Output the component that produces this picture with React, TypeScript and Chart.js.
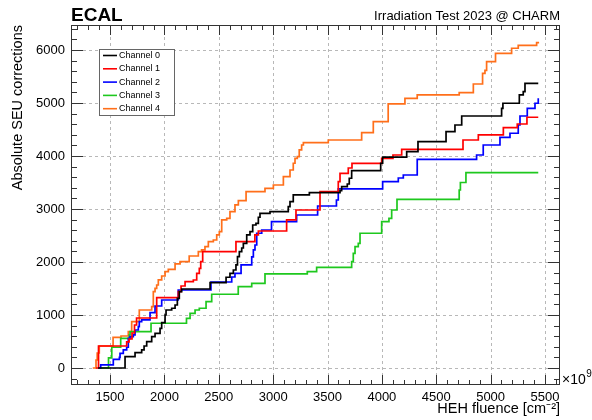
import React, { useEffect, useRef } from 'react';
import { Chart, registerables } from 'chart.js';
Chart.register(...registerables);

const FONT = '"Liberation Sans", Arial, Helvetica, sans-serif';

const SERIES_LABELS = ['Channel 0', 'Channel 1', 'Channel 2', 'Channel 3', 'Channel 4'];
const SERIES_COLORS = ['#000000', '#ff0000', '#0000ff', '#1ec81e', '#ff6f1a'];

const CH0_X = [1390, 1638, 1730, 1791, 1813, 1837, 1883, 1914, 1960, 1975, 2006, 2015, 2067, 2098, 2119, 2137, 2159, 2420, 2567, 2603, 2634, 2658, 2672, 2689, 2711, 2726, 2757, 2787, 2812, 2842, 2864, 2879, 2971, 3139, 3155, 3185, 3333, 3615, 3630, 3682, 3700, 3722, 3989, 4007, 4228, 4332, 4590, 4672, 4734, 5101, 5113, 5264, 5300, 5316, 5438];
const CH0_Y = [0, 213, 289, 340, 415, 496, 591, 655, 749, 855, 1000, 1094, 1127, 1189, 1315, 1440, 1490, 1610, 1712, 1787, 1849, 1944, 2100, 2195, 2264, 2353, 2510, 2572, 2698, 2730, 2844, 2919, 2950, 3044, 3138, 3265, 3308, 3346, 3421, 3472, 3580, 3723, 3863, 3980, 4082, 4270, 4459, 4585, 4755, 4900, 4995, 5152, 5214, 5372, 5372];

const CH1_X = [1371, 1394, 1653, 1675, 1702, 1725, 1744, 1929, 2128, 2153, 2190, 2266, 2297, 2321, 2334, 2352, 2658, 2832, 2864, 3124, 3210, 3431, 3599, 3615, 3691, 3725, 3998, 4102, 4182, 4746, 4887, 5117, 5245, 5334, 5438];
const CH1_Y = [0, 415, 491, 547, 660, 811, 943, 1327, 1440, 1547, 1628, 1660, 1787, 1881, 2006, 2195, 2383, 2510, 2585, 2793, 2981, 3327, 3516, 3674, 3774, 3862, 3957, 4019, 4127, 4302, 4397, 4535, 4604, 4731, 4731];

const CH2_X = [1392, 1414, 1530, 1586, 1592, 1622, 1653, 1668, 1684, 1714, 1730, 1760, 1769, 1791, 1868, 1914, 1975, 2127, 2428, 2619, 2649, 2705, 2803, 2818, 2833, 2849, 2895, 2985, 3216, 3409, 3582, 3599, 4007, 4151, 4197, 4325, 4871, 4932, 5086, 5178, 5254, 5270, 5337, 5408, 5438];
const CH2_Y = [0, 57, 164, 202, 277, 340, 391, 560, 591, 623, 717, 779, 874, 906, 1043, 1170, 1283, 1472, 1623, 1717, 1787, 1944, 2095, 2227, 2321, 2542, 2604, 2761, 2887, 3057, 3170, 3378, 3516, 3585, 3642, 3938, 4019, 4208, 4353, 4429, 4585, 4755, 4900, 4995, 5089];

const CH3_X = [1392, 1486, 1516, 1598, 1677, 1684, 1877, 2203, 2236, 2282, 2321, 2383, 2435, 2679, 2803, 2925, 3314, 3400, 3722, 3737, 3753, 3783, 3799, 3998, 4065, 4090, 4139, 4711, 4722, 4773, 5438];
const CH3_Y = [0, 189, 391, 560, 623, 685, 844, 938, 1032, 1094, 1127, 1251, 1391, 1534, 1598, 1774, 1817, 1900, 2006, 2164, 2289, 2353, 2542, 2761, 2825, 2981, 3180, 3359, 3500, 3685, 3685];

const CH4_X = [1341, 1371, 1382, 1401, 1528, 1601, 1668, 1699, 1769, 1883, 1898, 1914, 1929, 1944, 1975, 2006, 2036, 2098, 2144, 2228, 2312, 2342, 2373, 2404, 2450, 2481, 2505, 2527, 2573, 2603, 2649, 2680, 2751, 2925, 3002, 3094, 3155, 3185, 3201, 3222, 3240, 3262, 3278, 3507, 3814, 3921, 4058, 4212, 4325, 4711, 4841, 4926, 4948, 4963, 5045, 5193, 5254, 5423, 5438];
const CH4_Y = [0, 151, 283, 415, 576, 604, 685, 874, 1094, 1157, 1440, 1504, 1566, 1661, 1736, 1817, 1862, 1963, 2006, 2113, 2195, 2227, 2289, 2383, 2415, 2510, 2572, 2793, 2825, 2949, 3076, 3157, 3327, 3391, 3453, 3610, 3736, 3863, 3957, 3987, 4114, 4208, 4252, 4302, 4440, 4648, 4982, 5089, 5152, 5195, 5359, 5561, 5614, 5780, 5935, 6033, 6086, 6138, 6157];

const X_TICKS = [1500, 2000, 2500, 3000, 3500, 4000, 4500, 5000, 5500];
const Y_TICKS = [0, 1000, 2000, 3000, 4000, 5000, 6000];
const X_MINOR_TICKS = [1200, 1300, 1400, 1600, 1700, 1800, 1900, 2100, 2200, 2300, 2400, 2600, 2700, 2800, 2900, 3100, 3200, 3300, 3400, 3600, 3700, 3800, 3900, 4100, 4200, 4300, 4400, 4600, 4700, 4800, 4900, 5100, 5200, 5300, 5400, 5600];
const Y_MINOR_TICKS = [-200, 200, 400, 600, 800, 1200, 1400, 1600, 1800, 2200, 2400, 2600, 2800, 3200, 3400, 3600, 3800, 4200, 4400, 4600, 4800, 5200, 5400, 5600, 5800, 6200, 6400];
const X_RANGE = [1141, 5638];
const Y_RANGE = [-321, 6472];

const TITLE_LEFT = 'ECAL';
const TITLE_RIGHT = 'Irradiation Test 2023 @ CHARM';
const X_TITLE = 'HEH fluence [cm\u207B\u00B2]';
const Y_TITLE = 'Absolute SEU corrections';
const X_EXP_BASE = '\u00D710';
const X_EXP_POW = '9';

const XS = [CH0_X, CH1_X, CH2_X, CH3_X, CH4_X];
const YS = [CH0_Y, CH1_Y, CH2_Y, CH3_Y, CH4_Y];

const rootStyle = {
  id: 'rootStyle',
  beforeDatasetsDraw(chart: any) {
    const { ctx, chartArea: a, scales } = chart;
    const x = scales.x, y = scales.y;
    ctx.save();
    ctx.strokeStyle = '#b8b8b8';
    ctx.lineWidth = 1;
    ctx.setLineDash([3, 3]);
    ctx.beginPath();
    X_TICKS.forEach((v) => {
      const px = Math.round(x.getPixelForValue(v)) + 0.5;
      ctx.moveTo(px, a.top);
      ctx.lineTo(px, a.bottom);
    });
    Y_TICKS.forEach((v) => {
      const py = Math.round(y.getPixelForValue(v)) + 0.5;
      ctx.moveTo(a.left, py);
      ctx.lineTo(a.right, py);
    });
    ctx.stroke();
    ctx.restore();
  },
  afterDatasetsDraw(chart: any) {
    const { ctx, chartArea: a, scales } = chart;
    const x = scales.x, y = scales.y;
    ctx.save();
    ctx.setLineDash([]);
    ctx.strokeStyle = '#333';
    ctx.lineWidth = 1;
    ctx.strokeRect(a.left + 0.5, a.top + 0.5, a.right - a.left - 1, a.bottom - a.top - 1);
    ctx.beginPath();
    const xt = (v: number, len: number) => {
      const px = Math.round(x.getPixelForValue(v)) + 0.5;
      ctx.moveTo(px, a.bottom);
      ctx.lineTo(px, a.bottom - len);
      ctx.moveTo(px, a.top);
      ctx.lineTo(px, a.top + len);
    };
    const yt = (v: number, len: number) => {
      const py = Math.round(y.getPixelForValue(v)) + 0.5;
      ctx.moveTo(a.left, py);
      ctx.lineTo(a.left + len, py);
      ctx.moveTo(a.right, py);
      ctx.lineTo(a.right - len, py);
    };
    X_TICKS.forEach((v) => xt(v, 10));
    X_MINOR_TICKS.forEach((v) => xt(v, 5));
    Y_TICKS.forEach((v) => yt(v, 12));
    Y_MINOR_TICKS.forEach((v) => yt(v, 6));
    ctx.stroke();

    // legend
    const lx = 99, ly = 49, lw = 75, lh = 66;
    ctx.fillStyle = '#ffffff';
    ctx.fillRect(lx, ly, lw, lh);
    ctx.strokeStyle = '#666';
    ctx.strokeRect(lx + 0.5, ly + 0.5, lw, lh);
    ctx.font = `9px ${FONT}`;
    ctx.textBaseline = 'middle';
    ctx.textAlign = 'left';
    chart.data.datasets.forEach((ds: any, i: number) => {
      const ry = ly + 6.5 + i * 13.3;
      ctx.strokeStyle = ds.borderColor;
      ctx.lineWidth = 1.6;
      ctx.beginPath();
      ctx.moveTo(lx + 4, ry);
      ctx.lineTo(lx + 18, ry);
      ctx.stroke();
      ctx.fillStyle = '#000';
      ctx.fillText(ds.label, lx + 20, ry);
    });

    // titles
    ctx.fillStyle = '#000';
    ctx.textBaseline = 'alphabetic';
    ctx.font = `bold 19px ${FONT}`;
    ctx.textAlign = 'left';
    ctx.fillText(TITLE_LEFT, a.left, 21);
    ctx.font = `13px ${FONT}`;
    ctx.textAlign = 'right';
    ctx.fillText(TITLE_RIGHT, a.right, 20);

    // exponent
    ctx.textAlign = 'left';
    ctx.font = `14px ${FONT}`;
    const ex = a.right + 2;
    ctx.fillText(X_EXP_BASE, ex, a.bottom - 1);
    const w = ctx.measureText(X_EXP_BASE).width;
    ctx.font = `10px ${FONT}`;
    ctx.fillText(X_EXP_POW, ex + w + 0.5, a.bottom - 8);
    ctx.restore();
  },
};

export default function App() {
  const ref = useRef<HTMLCanvasElement | null>(null);
  useEffect(() => {
    if (!ref.current) return;
    const datasets = SERIES_LABELS.map((label, i) => ({
      label,
      data: XS[i].map((xv, j) => ({ x: xv, y: YS[i][j] })),
      borderColor: SERIES_COLORS[i],
      backgroundColor: SERIES_COLORS[i],
      borderWidth: 1.7,
      pointRadius: 0,
      stepped: 'before' as const,
      fill: false,
    }));
    const chart = new Chart(ref.current, {
      type: 'line',
      data: { datasets },
      plugins: [rootStyle],
      options: {
        animation: false,
        responsive: false,
        devicePixelRatio: 1,
        layout: { padding: { top: 25, right: 32, left: 0, bottom: 0 } },
        plugins: { legend: { display: false }, tooltip: { enabled: false }, title: { display: false } },
        scales: {
          x: {
            type: 'linear',
            min: X_RANGE[0],
            max: X_RANGE[1],
            afterBuildTicks: (s: any) => { s.ticks = X_TICKS.map((v) => ({ value: v })); },
            afterFit: (s: any) => { s.height = 35; },
            grid: { display: false, drawTicks: false },
            border: { display: false },
            ticks: {
              autoSkip: false, maxRotation: 0, padding: 5, color: '#000',
              font: { family: FONT, size: 13 },
              callback: (v: any) => String(v),
            },
            title: {
              display: true, text: X_TITLE, align: 'end', color: '#000',
              font: { family: FONT, size: 14.5 }, padding: { top: 0, bottom: 2 },
            },
          },
          y: {
            type: 'linear',
            min: Y_RANGE[0],
            max: Y_RANGE[1],
            afterBuildTicks: (s: any) => { s.ticks = Y_TICKS.map((v) => ({ value: v })); },
            afterFit: (s: any) => { s.width = 71; },
            grid: { display: false, drawTicks: false },
            border: { display: false },
            ticks: {
              autoSkip: false, padding: 6, color: '#000',
              font: { family: FONT, size: 13 },
              callback: (v: any) => String(v),
            },
            title: {
              display: true, text: Y_TITLE, align: 'end', color: '#000',
              font: { family: FONT, size: 14.5 }, padding: { top: 9, bottom: 0 },
            },
          },
        },
      } as any,
    });
    return () => chart.destroy();
  }, []);
  return (
    <div style={{ position: 'absolute', left: 0, top: 0, width: 592, height: 420, background: '#fff' }}>
      <canvas ref={ref} width={592} height={420} style={{ display: 'block', width: 592, height: 420 }} />
    </div>
  );
}
